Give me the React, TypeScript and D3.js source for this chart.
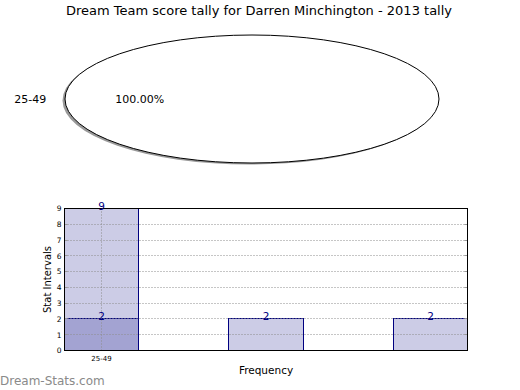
import * as d3 from "d3";

// Pie: one interval holds every score
const pieLabels = ["25-49"];
const pieValues = [100];

// Bars: two overlapping series drawn at positions 0, 1, 2
const barCategories = ["25-49"];
const barPositions = [0, 1, 2];
const tallySeries = [9];
const intervalSeries = [2, 2, 2];
const yTicks = [0, 1, 2, 3, 4, 5, 6, 7, 8, 9];

const W = 520;
const H = 390;
const FONT = "DejaVu Sans, sans-serif";
const NAVY = "#000080";

const PIE = { cx: 252, cy: 99, rx: 187, ry: 64 };
const PLOT = { left: 64.5, right: 467.5, top: 208.5, bottom: 350.5 };
const BAR_W = 0.45;

export default function App() {
  const x = d3.scaleLinear().domain([0, 2.45]).range([PLOT.left, PLOT.right]);
  const y = d3.scaleLinear().domain([0, 9]).range([PLOT.bottom, PLOT.top]);
  const px = (v: number) => Math.round(v - 0.5) + 0.5;

  const pie = d3
    .pie<number>()
    .sort(null)
    .startAngle(Math.PI / 2)
    .endAngle(Math.PI / 2 + 2 * Math.PI);
  const slices = pie(pieValues);
  const arc = d3.arc<d3.PieArcDatum<number>>().innerRadius(0).outerRadius(1);

  const barRect = (pos: number, v: number, key: string) => (
    <rect
      key={key}
      x={px(x(pos))}
      y={px(y(v))}
      width={px(x(pos + BAR_W)) - px(x(pos))}
      height={px(y(0)) - px(y(v))}
      fill={NAVY}
      fillOpacity={0.2}
      stroke={NAVY}
      strokeWidth={1}
      shapeRendering="crispEdges"
    />
  );

  return (
    <svg
      width={W}
      height={H}
      style={{ position: "absolute", left: 0, top: 0, background: "#fff" }}
      fontFamily={FONT}
    >
      <text x={259} y={15} textAnchor="middle" fontSize={13}>
        Dream Team score tally for Darren Minchington - 2013 tally
      </text>

      {/* pie with shadow */}
      {slices.map((s, i) => {
        const mid = (s.startAngle + s.endAngle) / 2;
        const lx = PIE.cx + Math.sin(mid) * 1.1 * PIE.rx;
        const ly = PIE.cy - Math.cos(mid) * 1.1 * PIE.ry;
        const cx = PIE.cx + Math.sin(mid) * 0.6 * PIE.rx;
        const cy = PIE.cy - Math.cos(mid) * 0.6 * PIE.ry;
        return (
          <g key={i}>
            <path
              d={arc(s) ?? ""}
              transform={`translate(${PIE.cx - 2.5},${PIE.cy + 1.5}) scale(${PIE.rx},${PIE.ry})`}
              fill="#999"
              stroke="none"
            />
            <path
              d={arc(s) ?? ""}
              transform={`translate(${PIE.cx},${PIE.cy}) scale(${PIE.rx},${PIE.ry})`}
              fill="#fff"
              stroke="#000"
              strokeWidth={1}
              vectorEffect="non-scaling-stroke"
            />
            <text x={lx} y={ly + 4} textAnchor={lx < PIE.cx ? "end" : "start"} fontSize={11}>
              {pieLabels[i]}
            </text>
            <text x={cx} y={cy + 4} textAnchor="middle" fontSize={11}>
              {((s.value / d3.sum(pieValues)) * 100).toFixed(2)}%
            </text>
          </g>
        );
      })}

      {/* bars */}
      {tallySeries.map((v, i) => barRect(barPositions[i], v, `t${i}`))}
      {intervalSeries.map((v, i) => barRect(barPositions[i], v, `s${i}`))}

      {/* grid */}
      {yTicks.slice(1, -1).map((t) => (
        <line
          key={`g${t}`}
          x1={PLOT.left}
          x2={PLOT.right}
          y1={px(y(t))}
          y2={px(y(t))}
          stroke="#8c8c8c"
          strokeDasharray="1,2"
        />
      ))}
      {barCategories.map((c, i) => (
        <line
          key={`v${c}`}
          x1={px(x(barPositions[i] + BAR_W / 2))}
          x2={px(x(barPositions[i] + BAR_W / 2))}
          y1={PLOT.top}
          y2={PLOT.bottom}
          stroke="#8c8c8c"
          strokeDasharray="1,2"
        />
      ))}

      {/* ticks */}
      {yTicks.map((t) => (
        <g key={`yt${t}`}>
          <line x1={PLOT.left} x2={PLOT.left + 3} y1={px(y(t))} y2={px(y(t))} stroke="#999" />
          <line x1={PLOT.right - 3} x2={PLOT.right} y1={px(y(t))} y2={px(y(t))} stroke="#999" />
          <text x={PLOT.left - 3} y={y(t) + 2.8} textAnchor="end" fontSize={7.5}>
            {t}
          </text>
        </g>
      ))}
      {barCategories.map((c, i) => (
        <text
          key={`xt${c}`}
          x={x(barPositions[i] + BAR_W / 2)}
          y={PLOT.bottom + 10}
          textAnchor="middle"
          fontSize={7}
        >
          {c}
        </text>
      ))}

      {/* frame */}
      <rect
        x={PLOT.left}
        y={PLOT.top}
        width={PLOT.right - PLOT.left}
        height={PLOT.bottom - PLOT.top}
        fill="none"
        stroke="#000"
        strokeWidth={1}
        shapeRendering="crispEdges"
      />

      {/* value labels */}
      {tallySeries.map((v, i) => (
        <text
          key={`tl${i}`}
          x={x(barPositions[i] + BAR_W / 2)}
          y={y(v) + 1}
          textAnchor="middle"
          fontSize={10.5}
          fill={NAVY}
        >
          {v}
        </text>
      ))}
      {intervalSeries.map((v, i) => (
        <text
          key={`sl${i}`}
          x={x(barPositions[i] + BAR_W / 2)}
          y={y(v) + 1}
          textAnchor="middle"
          fontSize={10.5}
          fill={NAVY}
        >
          {v}
        </text>
      ))}

      <text
        transform={`translate(${51},${(PLOT.top + PLOT.bottom) / 2}) rotate(-90)`}
        textAnchor="middle"
        fontSize={10}
      >
        Stat Intervals
      </text>
      <text x={(PLOT.left + PLOT.right) / 2} y={374} textAnchor="middle" fontSize={10.5}>
        Frequency
      </text>

      <text x={0} y={385} fontSize={12} fill="#8a8a8a">
        Dream-Stats.com
      </text>
    </svg>
  );
}
